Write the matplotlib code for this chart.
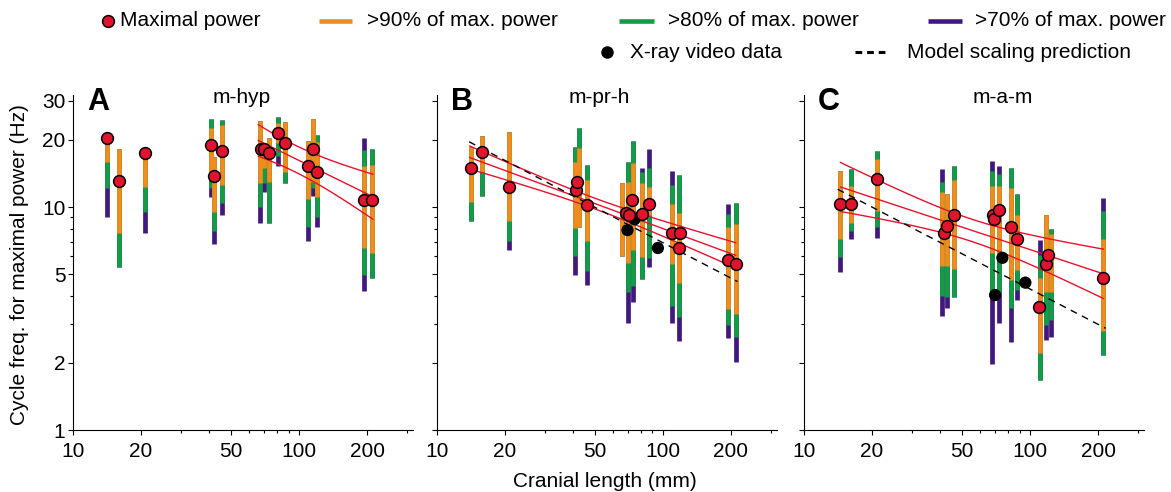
import numpy as np
import matplotlib
matplotlib.use('Agg')
import matplotlib.pyplot as plt
from matplotlib.lines import Line2D
from matplotlib.ticker import FixedLocator, NullFormatter, FixedFormatter

plt.rcParams['font.family'] = ['Liberation Sans', 'DejaVu Sans']

nan = np.nan

# ---------------- Panel A : m-hyp ----------------
A_len  = [14.2, 15.9, 20.9, 40.7, 42.1, 45.8, 67.0, 69.8, 73.5, 81.0, 86.7, 109.3, 115, 120, 194, 211]
A_o_hi = [20.5, 18.2, 17.4, 22.7, 16.8, 23.3, 24.4, 18.5, 20.5, 23.9, 24.1, 19.8, 24.7, 19.5, 15.2, 15.5]
A_o_lo = [16.0, 7.67, 12.3, 13.7, 9.53, 12.55, 12.8, 14.9, 13.0, 19.3, 14.3, 10.9, 13.0, 11.1, 6.53, 6.2]
A_g_hi = [nan, nan, nan, 24.8, nan, 24.5, nan, nan, nan, 25.3, nan, nan, nan, 21.0, 18.0, 18.2]
A_g_lo = [12.2, 5.40, 9.47, 12.2, 7.83, 10.4, 10.0, 12.8, 8.5, 16.9, 12.8, 8.1, 12.2, 8.99, 4.95, 4.82]
A_p_hi = [nan, nan, nan, nan, nan, nan, nan, nan, nan, nan, nan, nan, nan, nan, 20.4, nan]
A_p_lo = [9.05, nan, 7.62, 11.1, 6.82, 9.18, 8.5, 11.7, nan, 15.3, nan, 7.04, 11.2, 8.16, 4.2, nan]
A_max_len = [14.2, 15.9, 20.9, 40.7, 42.1, 45.8, 67.7, 69.8, 73.5, 81.0, 86.7, 109.3, 115, 120, 194, 211]
A_max_f   = [20.5, 13.1, 17.4, 18.9, 13.8, 17.9, 18.2, 18.2, 17.4, 21.5, 19.4, 15.3, 18.3, 14.3, 10.7, 10.7]
A_xray_len = []
A_xray_f = []
# regression fit: log10 f = a + b log10 L, CI half width sqrt(h0^2 + k^2 (logL-u0)^2)
A_fit = dict(x0=66, x1=212, a=2.2047, b=-0.498, h0=0.06, u0=1.98, k=0.234)
A_model = None

# ---------------- Panel B : m-pr-h ----------------
B_len  = [14.2, 15.8, 20.8, 40.8, 42.6, 46.1, 66.3, 70.1, 73.5, 80.8, 86.7, 110, 118.5, 193.6, 211]
B_o_hi = [18.6, 20.8, 21.8, 16.0, 18.4, 13.2, 12.8, 13.0, 15.7, 12.8, 12.3, 10.3, 9.37, 8.17, 8.36]
B_o_lo = [10.5, 14.4, 8.68, 8.08, 8.17, 7.06, 6.03, 5.59, 6.42, 5.99, 9.2, 5.53, 4.55, 3.49, 3.31]
B_g_hi = [nan, nan, nan, 18.5, 22.6, 15.5, nan, 16.0, 19.7, 14.4, 14.9, 12.5, 13.9, 9.3, 10.4]
B_g_lo = [8.68, 11.2, 7.04, 6.03, nan, 5.18, nan, 4.17, 4.42, 4.74, 5.92, 3.61, 3.2, 2.96, 2.62]
B_p_hi = [nan, nan, nan, nan, nan, nan, nan, nan, nan, 15.0, 18.3, 14.5, nan, 10.3, nan]
B_p_lo = [nan, nan, 6.42, 4.95, nan, 4.47, nan, 3.01, 3.76, nan, 5.40, 3.01, 2.51, 2.58, 2.02]
B_max_len = [14.2, 15.8, 20.8, 41.2, 41.9, 46.1, 68.5, 70.6, 73.0, 81.1, 86.7, 109.6, 118.6, 117.5, 194.9, 210.9]
B_max_f   = [15.0, 17.7, 12.3, 11.9, 13.0, 10.2, 9.36, 9.2, 10.7, 9.28, 10.3, 7.64, 7.64, 6.57, 5.78, 5.55]
B_xray_len = [69.8, 75.0, 95.1]
B_xray_f   = [7.88, 8.81, 6.55]
B_fit = dict(x0=14, x1=210, a=1.6495, b=-0.373, h0=0.024, u0=1.7, k=0.0825)
B_model = dict(x0=13.9, x1=214, a=1.8963, b=-0.528)

# ---------------- Panel C : m-a-m ----------------
C_len  = [14.4, 16.1, 21.0, 40.8, 42.9, 45.9, 67.7, 73.1, 82.3, 87.1, 111, 118, 124, 211]
C_o_hi = [14.5, 12.4, 16.4, 11.7, 11.4, 13.2, 12.4, 12.4, 12.2, 9.19, 4.79, 9.19, 7.56, 7.19]
C_o_lo = [7.19, 8.45, 9.6, 5.46, 5.46, 5.3, 6.2, 6.1, 4.7, 5.22, 2.21, 4.17, 4.17, 2.78]
C_g_hi = [nan, 14.8, 17.8, 12.9, nan, 15.3, 14.5, 14.1, 14.9, 11.4, 6.09, nan, 7.94, 9.6]
C_g_lo = [5.99, 7.83, 8.17, 3.99, 3.96, 3.96, 4.17, 4.17, 3.51, 4.24, 1.68, 2.96, 3.11, 2.17]
C_p_hi = [nan, nan, nan, 14.8, nan, nan, 16.1, 15.3, nan, nan, 7.1, nan, nan, 11.0]
C_p_lo = [5.13, 7.19, 7.3, 3.25, 3.51, nan, 1.98, 3.01, 2.49, 3.82, nan, 2.53, 2.6, nan]
C_max_len = [14.4, 16.1, 21.0, 41.5, 42.9, 46.3, 68.2, 69.5, 73.1, 82.3, 87.1, 110, 118, 120, 211]
C_max_f   = [10.3, 10.3, 13.4, 7.62, 8.21, 9.19, 9.19, 8.81, 9.7, 8.17, 7.19, 3.55, 5.58, 6.09, 4.79]
C_xray_len = [75.4, 70.0, 95.3]
C_xray_f   = [5.92, 4.03, 4.58]
C_fit = dict(x0=14.5, x1=211, a=1.479, b=-0.335, h0=0.05, u0=1.74, k=0.169)
C_model = dict(x0=14.1, x1=216, a=1.684, b=-0.526)

titles = ['m-hyp', 'm-pr-h', 'm-a-m']
letters = ['A', 'B', 'C']
xticks_major = [10, 20, 50, 100, 200]
xticks_minor = [30, 40, 60, 70, 80, 90, 300]
yticks_major = [1, 2, 5, 10, 20, 30]
yticks_minor = [3, 4, 6, 7, 8, 9]

ORANGE = '#F08C1E'
GREEN = '#149B46'
PURPLE = '#41197D'
RED = '#E1142D'
LINERED = '#E8112D'

FS = 15

fig = plt.figure(figsize=(11.71, 4.92), dpi=100)
W, H = 1171.0, 492.0
lefts = [73, 436.7, 804]
axes = []
for L in lefts:
    axes.append(fig.add_axes([L / W, 62 / H, 340 / W, 335 / H]))

panels = [
    (A_len, A_o_hi, A_o_lo, A_g_hi, A_g_lo, A_p_hi, A_p_lo, A_max_len, A_max_f, A_xray_len, A_xray_f, A_fit, A_model),
    (B_len, B_o_hi, B_o_lo, B_g_hi, B_g_lo, B_p_hi, B_p_lo, B_max_len, B_max_f, B_xray_len, B_xray_f, B_fit, B_model),
    (C_len, C_o_hi, C_o_lo, C_g_hi, C_g_lo, C_p_hi, C_p_lo, C_max_len, C_max_f, C_xray_len, C_xray_f, C_fit, C_model),
]

title_xf = [0.495, 0.477, 0.584]
BAR_LW = 3.4

for i, (ax, P) in enumerate(zip(axes, panels)):
    L, ohi, olo, ghi, glo, phi, plo, mL, mF, xL, xF, fit, model = P
    L = np.array(L); ohi = np.array(ohi); olo = np.array(olo)
    ghi = np.array(ghi); glo = np.array(glo); phi = np.array(phi); plo = np.array(plo)
    gtop = np.where(np.isnan(ghi), ohi, ghi)
    gbot = np.where(np.isnan(glo), olo, glo)
    ptop = np.where(np.isnan(phi), gtop, phi)
    pbot = np.where(np.isnan(plo), gbot, plo)
    ax.vlines(L, pbot, ptop, colors=PURPLE, lw=BAR_LW, zorder=2, capstyle='butt')
    ax.vlines(L, gbot, gtop, colors=GREEN, lw=BAR_LW, zorder=2.1, capstyle='butt')
    ax.vlines(L, olo, ohi, colors=ORANGE, lw=BAR_LW, zorder=2.2, capstyle='butt')

    # regression with confidence band
    u = np.linspace(np.log10(fit['x0']), np.log10(fit['x1']), 100)
    mid = fit['a'] + fit['b'] * u
    hw = np.sqrt(fit['h0'] ** 2 + fit['k'] ** 2 * (u - fit['u0']) ** 2)
    for curve in (mid + hw, mid, mid - hw):
        ax.plot(10 ** u, 10 ** curve, color=LINERED, lw=1.0, zorder=3)

    if model is not None:
        um = np.linspace(np.log10(model['x0']), np.log10(model['x1']), 50)
        ax.plot(10 ** um, 10 ** (model['a'] + model['b'] * um), color='black', lw=1.0,
                ls=(0, (5, 4)), zorder=3.1)

    if len(xL):
        ax.scatter(xL, xF, s=78, color='black', edgecolors='none', zorder=4)
    ax.scatter(mL, mF, s=72, color=RED, edgecolors='black', linewidths=1.1, zorder=5)

    ax.set_xscale('log')
    ax.set_yscale('log')
    ax.set_xlim(10, 319)
    ax.set_ylim(1, 31.8)
    ax.xaxis.set_major_locator(FixedLocator(xticks_major))
    ax.xaxis.set_minor_locator(FixedLocator(xticks_minor))
    ax.xaxis.set_major_formatter(FixedFormatter([str(t) for t in xticks_major]))
    ax.xaxis.set_minor_formatter(NullFormatter())
    ax.yaxis.set_major_locator(FixedLocator(yticks_major))
    ax.yaxis.set_minor_locator(FixedLocator(yticks_minor))
    ax.yaxis.set_minor_formatter(NullFormatter())
    if i == 0:
        ax.yaxis.set_major_formatter(FixedFormatter([str(t) for t in yticks_major]))
    else:
        ax.yaxis.set_major_formatter(NullFormatter())
    ax.tick_params(which='major', length=3.5, width=0.8, labelsize=FS, direction='out', pad=2)
    ax.tick_params(axis='x', which='major', pad=5)
    ax.tick_params(which='minor', length=2.5, width=0.8, direction='out')
    for s in ['top', 'right']:
        ax.spines[s].set_visible(False)
    for s in ['left', 'bottom']:
        ax.spines[s].set_linewidth(0.8)
    ax.text(title_xf[i], 0.994, titles[i], transform=ax.transAxes, ha='center', va='center', fontsize=FS)
    ax.text(0.041, 0.979, letters[i], transform=ax.transAxes, ha='left', va='center',
            fontsize=22, fontweight='bold')

# axis labels
fig.text(20 / W, 1 - 265 / H, 'Cycle freq. for maximal power (Hz)', rotation=90,
         ha='center', va='center', fontsize=FS)
fig.text(605 / W, 5 / H, 'Cranial length (mm)', ha='center', va='baseline', fontsize=FS)

# manual legend
def fx(px):
    return px / W
def fy(py):
    return 1 - py / H

r1, r2 = 21, 52
fig.add_artist(Line2D([fx(108)], [fy(r1)], marker='o', ms=8.5, mfc=RED, mec='black', mew=1.1,
                      ls='none', transform=fig.transFigure))
fig.text(fx(120), fy(r1), 'Maximal power', ha='left', va='center', fontsize=FS)
for (x0, x1, tx, col, lab) in [(319, 352, 367, ORANGE, '>90% of max. power'),
                               (619, 654, 667.5, GREEN, '>80% of max. power'),
                               (928, 962, 975, PURPLE, '>70% of max. power')]:
    fig.add_artist(Line2D([fx(x0), fx(x1)], [fy(r1), fy(r1)], color=col, lw=3.3,
                          solid_capstyle='butt', transform=fig.transFigure))
    fig.text(fx(tx), fy(r1), lab, ha='left', va='center', fontsize=FS)
fig.add_artist(Line2D([fx(607)], [fy(r2)], marker='o', ms=9, mfc='black', mec='none',
                      ls='none', transform=fig.transFigure))
fig.text(fx(630), fy(r2), 'X-ray video data', ha='left', va='center', fontsize=FS)
fig.add_artist(Line2D([fx(855), fx(889)], [fy(r2), fy(r2)], color='black', lw=2.2,
                      ls=(0, (2.2, 1.6)), transform=fig.transFigure))
fig.text(fx(907), fy(r2), 'Model scaling prediction', ha='left', va='center', fontsize=FS)

fig.savefig('out.png', dpi=100)
